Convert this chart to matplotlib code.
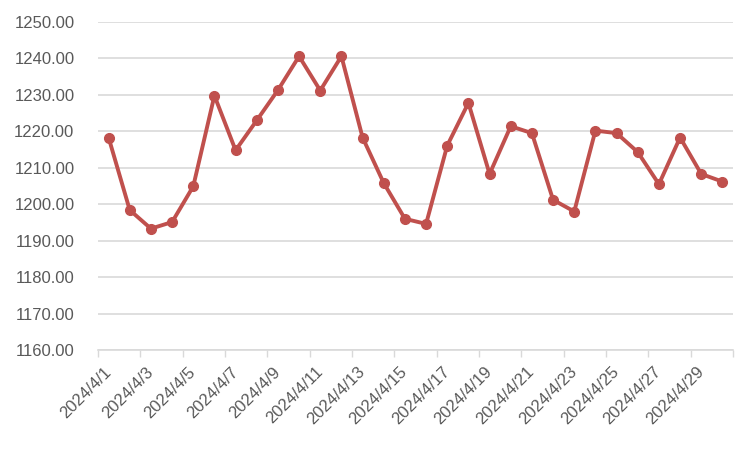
import matplotlib
matplotlib.use('Agg')
import matplotlib.pyplot as plt
import numpy as np

# daily price, April 2024
dates = ['2024/4/%d' % d for d in range(1, 31)]
prices = [1218.3, 1198.4, 1193.3, 1195.1, 1204.9, 1229.8, 1214.8, 1223.0, 1231.3, 1240.6,
          1231.2, 1240.6, 1218.3, 1205.8, 1196.0, 1194.6, 1216.1, 1227.8, 1208.3, 1221.4,
          1219.5, 1201.2, 1198.0, 1220.2, 1219.5, 1214.3, 1205.5, 1218.3, 1208.3, 1206.2]
y_ticks = [1160, 1170, 1180, 1190, 1200, 1210, 1220, 1230, 1240, 1250]

line_color = '#C0504D'
text_color = '#595959'
grid_color = '#D9D9D9'

plt.rcParams['font.family'] = ['Liberation Sans', 'DejaVu Sans']

fig = plt.figure(figsize=(7.5, 4.5), dpi=100)
ax = fig.add_axes([98 / 750, 1 - 350 / 450, 635 / 750, 328 / 450])

x = np.arange(len(dates))
ax.plot(x, prices, color=line_color, linewidth=2.8, marker='o', markersize=7,
        markeredgecolor=line_color, markerfacecolor=line_color, zorder=3)

ax.set_xlim(-0.5, len(dates) - 0.5)
ax.set_ylim(y_ticks[0], y_ticks[-1])

# y axis: gridlines, formatted labels
ax.set_yticks(y_ticks)
ax.set_yticklabels(['%.2f' % v for v in y_ticks])
ax.yaxis.grid(True, color=grid_color, linewidth=1.2)
ax.set_axisbelow(True)
ax.tick_params(axis='y', length=0, pad=17, labelsize=12, labelcolor=text_color)

# x axis: labels every 2 days, tick marks between category pairs
ax.set_xticks(x[::2])
ax.set_xticklabels(dates[::2], rotation=45, ha='right', va='center', rotation_mode='anchor')
ax.set_xticks(np.arange(-0.5, len(dates), 2), minor=True)
ax.tick_params(axis='x', which='major', length=0, pad=14, labelsize=12, labelcolor=text_color)
ax.tick_params(axis='x', which='minor', length=5, width=1, color=grid_color, direction='out')

for side in ['top', 'right', 'left']:
    ax.spines[side].set_visible(False)
ax.spines['bottom'].set_color(grid_color)
ax.spines['bottom'].set_linewidth(1.2)

fig.savefig('out.png', dpi=100)
